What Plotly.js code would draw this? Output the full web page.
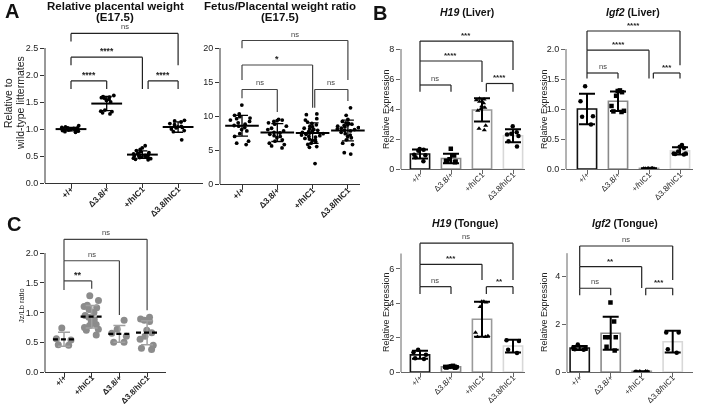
<!DOCTYPE html>
<html><head><meta charset="utf-8">
<script src="https://cdn.plot.ly/plotly-3.0.1.min.js"></script>
<style>html,body{margin:0;padding:0;background:#fff}#chart{width:701px;height:405px;filter:grayscale(1)}</style>
</head><body><div id="chart"></div>
<script>
// ---------- categories ----------
const catsAB = ['+/+', 'Δ3.8/+', '+/hIC1', 'Δ3.8/hIC1'];
const catsC  = ['+/+', '+/hIC1', 'Δ3.8/+', 'Δ3.8/hIC1'];

// ---------- Panel A: relative placental weight (E17.5) ----------
const placWt      = [1.06,1.04,1.03,1.02,1.01,1.01,1.00,1.00,0.99,0.99,0.98,0.97,0.96,0.95,0.94,1.02];
const placD38     = [1.62,1.60,1.59,1.58,1.57,1.55,1.53,1.50,1.35,1.33,1.32,1.30,1.28];
const placHic     = [0.69,0.65,0.62,0.60,0.58,0.56,0.55,0.54,0.53,0.52,0.51,0.50,0.50,0.49,0.48,0.47,0.46,0.45,0.44,0.43,0.47];
const placD38Hic  = [1.16,1.15,1.13,1.10,1.08,1.05,1.04,1.03,1.02,1.00,0.97,0.95,0.80];

// ---------- Panel A: fetus/placental weight ratio (E17.5) ----------
const ratioWt     = [11.6,10.3,10.1,9.9,9.7,9.6,9.4,9.2,9.0,8.8,8.6,8.5,8.3,8.0,7.8,7.4,7.0,6.3,6.0,5.8];
const ratioD38    = [9.5,9.4,9.3,9.2,9.0,8.8,8.5,8.2,8.0,7.8,7.6,7.5,7.3,7.1,7.0,6.8,6.5,6.3,6.0,5.8,5.6,5.3];
const ratioHic    = [10.3,10.2,9.6,9.4,9.1,8.9,8.7,8.5,8.4,8.2,8.1,8.0,7.9,7.8,7.7,7.6,7.5,7.4,7.3,7.2,7.1,7.0,6.9,6.7,6.6,6.5,6.4,6.2,6.0,5.8,5.5,5.4,3.0];
const ratioD38Hic = [11.2,10.1,9.5,9.2,9.0,8.9,8.8,8.7,8.6,8.5,8.4,8.3,8.2,8.1,8.0,7.9,7.8,7.6,7.4,7.2,7.0,6.8,6.5,6.0,5.8,4.6,4.4];

// ---------- Panel B: H19 (Liver) ----------
const h19LivWt     = [1.33,1.28,1.22,0.95,0.92,0.78,0.52];
const h19LivD38    = [1.35,0.90,0.65,0.55,0.50,0.50,0.45];
const h19LivHic    = [4.70,4.65,4.60,4.50,4.40,4.20,4.10,4.00,3.90,2.90,2.70,2.60];
const h19LivD38Hic = [2.85,2.45,2.35,2.30,2.20,1.85,1.50];

// ---------- Panel B: Igf2 (Liver) ----------
const igfLivWt     = [1.38,1.13,0.88,0.87,0.74];
const igfLivD38    = [1.31,1.30,1.28,1.22,1.05,0.97,0.96,0.95];
const igfLivHic    = [0.010,0.012,0.008,0.010,0.011,0.009,0.010,0.012];
const igfLivD38Hic = [0.40,0.37,0.35,0.29,0.26,0.25,0.24,0.26];

// ---------- Panel B: H19 (Tongue) ----------
const h19TonWt     = [1.30,1.15,1.00,0.80,0.75];
const h19TonD38    = [0.36,0.33,0.31,0.30,0.28,0.26,0.25,0.30];
const h19TonHic    = [4.10,4.10,4.05,3.80,2.30,2.10,2.05,2.05];
const h19TonD38Hic = [1.85,1.80,1.30,1.10];

// ---------- Panel B: Igf2 (Tongue) ----------
const igfTonWt     = [1.15,1.00,0.97,0.95,0.93];
const igfTonD38    = [2.90,2.10,1.45,1.45,1.45,1.05,0.90];
const igfTonHic    = [0.020,0.030,0.020,0.025,0.030,0.020];
const igfTonD38Hic = [1.65,1.65,0.95,0.80];

// ---------- Panel C: Jz/Lb ratio ----------
const jzWt     = [0.74,0.56,0.54,0.46,0.45];
const jzHic    = [1.28,1.20,1.12,1.10,1.08,1.05,1.00,0.95,0.92,0.88,0.85,0.80,0.78,0.75,0.72,0.70,0.62];
const jzD38    = [0.87,0.72,0.65,0.60,0.50,0.50];
const jzD38Hic = [0.92,0.89,0.87,0.85,0.70,0.66,0.60,0.55,0.45,0.40,0.38];

// ---------- significance brackets: [from, to, top, leftEnd, rightEnd, label] ----------
const sigPlac  = [[0,1,1.89,1.74,1.74,'****'],[0,2,2.33,2.18,1.74,'****'],[2.16,3,1.89,1.74,1.74,'****'],[0,3,2.77,2.62,2.18,'ns']];
const sigRatio = [[0,1,13.9,12.6,10.6,'ns'],[0,2,17.5,15.3,11.2,'*'],[2.06,3,13.9,11.2,12.2,'ns'],[0,3,21.1,19.95,15.3,'ns']];
const sigH19Liv = [[0,1,5.6,5.15,5.15,'ns'],[0,2,7.2,5.6,5.8,'****'],[2.14,3,5.7,5.15,5.15,'****'],[0,3,8.53,7.2,6.6,'***']];
const sigIgfLiv = [[0,1,1.6,1.51,1.51,'ns'],[0,2,1.98,1.6,1.51,'****'],[2.14,3,1.6,1.51,1.51,'***'],[0,3,2.3,1.98,1.73,'****']];
const sigJz     = [[0,1,1.53,1.38,1.40,'**'],[0,2,1.87,1.53,0.96,'ns'],[0,3,2.23,1.87,1.04,'ns']];
const sigH19Ton = [[0,1,4.97,4.54,4.54,'ns'],[0,2,6.27,4.97,5.36,'***'],[2.14,3,4.97,4.54,4.54,'**'],[0,3,7.5,6.27,5.36,'ns']];
const sigIgfTon = [[0,1,3.49,3.2,3.2,'ns'],[0,2,4.39,3.49,3.5,'**'],[2.13,3,3.49,3.2,3.2,'***'],[0,3,5.25,4.39,3.83,'ns']];

// ---------- helpers ----------
const FONT = '"Liberation Sans", Arial, Helvetica, sans-serif';
const W = 701, H = 405;
const mean = a => a.reduce((s, v) => s + v, 0) / a.length;
const sd = a => { const m = mean(a); return Math.sqrt(a.reduce((s, v) => s + (v - m) * (v - m), 0) / (a.length - 1)); };

const traces = [], shapes = [], annotations = [];
const layout = {
  width: W, height: H, margin: {l: 0, r: 0, t: 0, b: 0},
  paper_bgcolor: '#fff', plot_bgcolor: 'rgba(0,0,0,0)', showlegend: false,
  font: {family: FONT, color: '#222'}, boxmode: 'overlay', barmode: 'overlay'
};

function keys(i) { const s = i === 1 ? '' : String(i); return {xa: 'xaxis' + s, ya: 'yaxis' + s, x: 'x' + s, y: 'y' + s}; }

function addAxes(i, c) {
  const k = keys(i);
  layout[k.xa] = {
    domain: [c.axisX / W, c.endX / W], anchor: k.y, type: 'category',
    categoryorder: 'array', categoryarray: c.cats,
    range: [(c.axisX - c.cat0) / c.step, (c.endX - c.cat0) / c.step],
    showline: true, linecolor: c.lc, linewidth: 1, ticks: 'outside', ticklen: 4, tickcolor: c.lc,
    tickangle: -45, ticklabelstandoff: -7,
    tickfont: {size: c.xfs, family: FONT, color: '#222', weight: c.xbold ? 'bold' : 'normal'},
    showgrid: false, zeroline: false, fixedrange: true
  };
  layout[k.ya] = {
    domain: [(H - c.y0) / H, (H - (c.y0 - c.ymax * c.ppu)) / H], anchor: k.x,
    range: [0, c.ymax], tickvals: c.yticks, tickformat: c.fmt,
    showline: false, ticks: 'outside', ticklen: 4, tickcolor: c.lc,
    tickfont: {size: 9, family: FONT, color: '#222'},
    showgrid: false, zeroline: false, fixedrange: true
  };
  shapes.push({type: 'line', xref: k.x + ' domain', yref: k.y, x0: 0, x1: 0, y0: 0, y1: c.ytop,
               line: {color: c.lc, width: 1}});
}

function addPoints(i, cats, groups, o) {
  const k = keys(i);
  groups.forEach((vals, g) => {
    traces.push({
      type: 'box', xaxis: k.x, yaxis: k.y, x: vals.map(() => cats[g]), y: vals,
      boxpoints: 'all', jitter: o.jitter, pointpos: 0, width: o.width,
      fillcolor: 'rgba(0,0,0,0)', line: {width: 0, color: 'rgba(0,0,0,0)'}, whiskerwidth: 0,
      marker: {size: o.size, color: o.color, symbol: o.symbols ? o.symbols[g] : 'circle'},
      hoverinfo: 'skip'
    });
  });
}

function addBars(i, cats, groups, outline) {
  const k = keys(i);
  traces.push({
    type: 'bar', xaxis: k.x, yaxis: k.y, x: cats, y: groups.map(mean), width: 0.62,
    marker: {color: '#fff', line: {color: outline, width: 1.6}}, hoverinfo: 'skip'
  });
}

function addErr(i, cats, groups, o) {
  const k = keys(i);
  traces.push({
    type: 'scatter', mode: 'markers', xaxis: k.x, yaxis: k.y, x: cats, y: groups.map(mean),
    marker: o.meanLine ? {symbol: 'line-ew', size: o.meanLine, color: '#000', line: {width: 2, color: '#000'}}
                       : {size: 1, color: 'rgba(0,0,0,0)'},
    error_y: {type: 'data', array: groups.map(sd), visible: true, color: o.color, thickness: o.thick, width: o.capw},
    hoverinfo: 'skip', cliponaxis: false
  });
}

function addDashMeans(i, groups) {
  const k = keys(i);
  groups.forEach((vals, g) => {
    const m = mean(vals);
    shapes.push({type: 'line', xref: k.x, yref: k.y, x0: g - 0.4, x1: g + 0.4, y0: m, y1: m,
                 line: {color: '#000', width: 2.2, dash: '5px,3px'}});
  });
}

function addBrackets(i, list, color, fs, bold) {
  const k = keys(i);
  list.forEach(([x0, x1, yt, yl, yr, lab]) => {
    const ln = (a, b, c, d) => ({type: 'line', xref: k.x, yref: k.y, x0: a, y0: b, x1: c, y1: d, line: {color: color, width: 1.2}});
    shapes.push(ln(x0, yl, x0, yt), ln(x0, yt, x1, yt), ln(x1, yt, x1, yr));
    const isNs = lab === 'ns';
    annotations.push({xref: k.x, yref: k.y, x: (x0 + x1) / 2, y: yt, yanchor: 'bottom', yshift: isNs ? 1 : 0,
      borderpad: 0, text: lab, showarrow: false,
      font: {size: isNs ? 7.5 : fs, family: FONT, color: isNs ? '#444' : '#222', weight: (bold && !isNs) ? 'bold' : 'normal'}});
  });
}

function label(text, px, py, o) {
  annotations.push(Object.assign({xref: 'paper', yref: 'paper', x: px / W, y: 1 - py / H,
    xanchor: 'center', yanchor: 'middle', text: text, showarrow: false, borderpad: 0,
    font: {size: 10, family: FONT, color: '#111'}}, o || {}));
}

// ---------- subplot geometry ----------
const dark = '#333', grey = '#666';
const P = [
  null,
  {cats: catsAB, axisX: 45,  cat0: 71,    step: 35.7, endX: 203, y0: 183, ppu: 54,    ymax: 2.95, ytop: 2.5,  yticks: [0,0.5,1,1.5,2,2.5], fmt: '.1f', lc: dark, xfs: 8.5, xbold: true},
  {cats: catsAB, axisX: 220, cat0: 242,   step: 35.3, endX: 360, y0: 184, ppu: 6.8,   ymax: 23.5, ytop: 20,   yticks: [0,5,10,15,20],       fmt: 'd',   lc: dark, xfs: 8.5, xbold: true},
  {cats: catsAB, axisX: 401, cat0: 420,   step: 31,   endX: 525, y0: 169, ppu: 15,    ymax: 9.4,  ytop: 8,    yticks: [0,2,4,6,8],          fmt: 'd',   lc: grey, xfs: 8,   xbold: false},
  {cats: catsAB, axisX: 566, cat0: 587,   step: 31,   endX: 693, y0: 169, ppu: 60,    ymax: 2.5,  ytop: 2,    yticks: [0,0.5,1,1.5,2],      fmt: '.1f', lc: grey, xfs: 8,   xbold: false},
  {cats: catsC,  axisX: 45,  cat0: 64,    step: 27.7, endX: 166, y0: 372, ppu: 59.5,  ymax: 2.45, ytop: 2,    yticks: [0,0.5,1,1.5,2],      fmt: '.1f', lc: dark, xfs: 8,   xbold: true},
  {cats: catsAB, axisX: 401, cat0: 420,   step: 31,   endX: 525, y0: 372, ppu: 17.17, ymax: 8.1,  ytop: 6.9,  yticks: [0,2,4,6],            fmt: 'd',   lc: grey, xfs: 8,   xbold: false},
  {cats: catsAB, axisX: 567, cat0: 579.7, step: 31,   endX: 693, y0: 372, ppu: 24,    ymax: 5.8,  ytop: 4.95, yticks: [0,2,4],              fmt: 'd',   lc: grey, xfs: 8,   xbold: false}
];
for (let i = 1; i <= 7; i++) addAxes(i, P[i]);

// Panel A
const placGroups = [placWt, placD38, placHic, placD38Hic];
const ratioGroups = [ratioWt, ratioD38, ratioHic, ratioD38Hic];
addPoints(1, catsAB, placGroups, {jitter: 0.9, width: 0.7, size: 3.8, color: '#000'});
addErr(1, catsAB, placGroups, {meanLine: 22, color: '#000', thick: 1.3, capw: 5});
addBrackets(1, sigPlac, '#222', 8.5, true);
addPoints(2, catsAB, ratioGroups, {jitter: 0.9, width: 0.75, size: 3.8, color: '#000'});
addErr(2, catsAB, ratioGroups, {meanLine: 24, color: '#000', thick: 1.3, capw: 6});
addBrackets(2, sigRatio, '#444', 9, true);

// Panel B
const outline = ['#111', '#8a8a8a', '#9a9a9a', '#d8d8d8'];
const bSyms = ['circle', 'square', 'triangle-up', 'circle'];
const bSets = [
  [3, [h19LivWt, h19LivD38, h19LivHic, h19LivD38Hic], sigH19Liv],
  [4, [igfLivWt, igfLivD38, igfLivHic, igfLivD38Hic], sigIgfLiv],
  [6, [h19TonWt, h19TonD38, h19TonHic, h19TonD38Hic], sigH19Ton],
  [7, [igfTonWt, igfTonD38, igfTonHic, igfTonD38Hic], sigIgfTon]
];
bSets.forEach(([i, groups, sig]) => {
  addBars(i, catsAB, groups, outline);
  addPoints(i, catsAB, groups, {jitter: 0.9, width: 0.55, size: 4.5, color: '#000', symbols: bSyms});
  addErr(i, catsAB, groups, {color: '#000', thick: 2, capw: 8});
  addBrackets(i, sig, '#222', 8, true);
});

// Panel C
const jzGroups = [jzWt, jzHic, jzD38, jzD38Hic];
addPoints(5, catsC, jzGroups, {jitter: 0.9, width: 0.72, size: 7, color: '#8c8c8c'});
addErr(5, catsC, jzGroups, {color: '#a0a0a0', thick: 1.5, capw: 6});
addDashMeans(5, jzGroups);
addBrackets(5, sigJz, '#444', 9, true);

// ---------- titles and labels ----------
label('<b>A</b>', 12, 11, {font: {size: 20, family: FONT, color: '#111'}});
label('<b>B</b>', 380, 13, {font: {size: 20, family: FONT, color: '#111'}});
label('<b>C</b>', 14, 224, {font: {size: 20, family: FONT, color: '#111'}});

label('<b>Relative placental weight</b>', 115, 5.5, {font: {size: 11.5, family: FONT, color: '#111'}});
label('<b>(E17.5)</b>', 115, 16.5, {font: {size: 11.5, family: FONT, color: '#111'}});
label('<b>Fetus/Placental weight ratio</b>', 280, 5.5, {font: {size: 11.5, family: FONT, color: '#111'}});
label('<b>(E17.5)</b>', 280, 16.5, {font: {size: 11.5, family: FONT, color: '#111'}});

label('<b><i>H19</i> (Liver)</b>', 467, 12, {font: {size: 10.5, family: FONT, color: '#111'}});
label('<b><i>Igf2</i> (Liver)</b>', 633, 12, {font: {size: 10.5, family: FONT, color: '#111'}});
label('<b><i>H19</i> (Tongue)</b>', 465, 223, {font: {size: 10.5, family: FONT, color: '#111'}});
label('<b><i>Igf2</i> (Tongue)</b>', 625, 223, {font: {size: 10.5, family: FONT, color: '#111'}});

label('Relative to', 8, 103, {textangle: -90, font: {size: 10.5, family: FONT, color: '#222'}});
label('wild-type littermates', 20, 103, {textangle: -90, font: {size: 10.5, family: FONT, color: '#222'}});
label('Relative Expression', 386, 109, {textangle: -90, font: {size: 9, family: FONT, color: '#222'}});
label('Relative Expression', 544, 109, {textangle: -90, font: {size: 9, family: FONT, color: '#222'}});
label('Relative Expression', 386, 312, {textangle: -90, font: {size: 9, family: FONT, color: '#222'}});
label('Relative Expression', 544, 312, {textangle: -90, font: {size: 9, family: FONT, color: '#222'}});
label('Jz/Lb ratio', 21, 306, {textangle: -90, font: {size: 7.5, family: FONT, color: '#222'}});

layout.shapes = shapes;
layout.annotations = annotations;
Plotly.newPlot('chart', traces, layout, {displayModeBar: false, staticPlot: true});
</script></body></html>
